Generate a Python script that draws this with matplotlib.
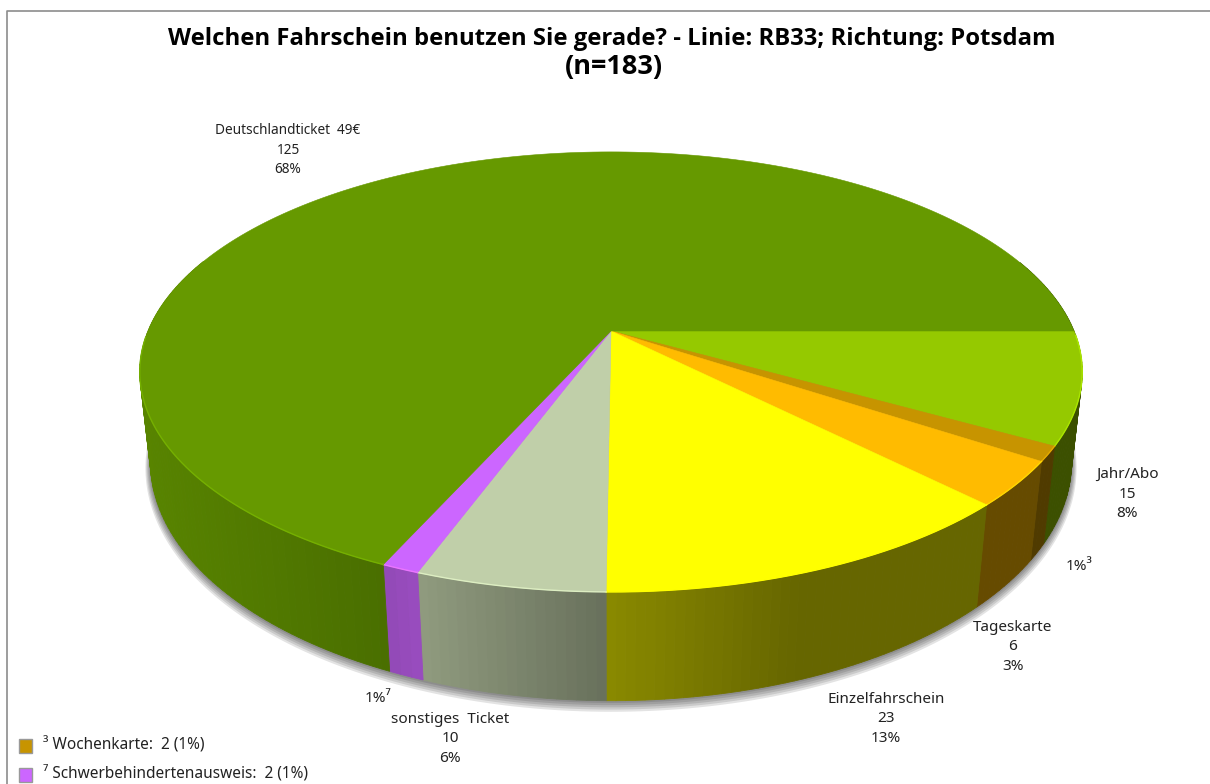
import numpy as np
import matplotlib
matplotlib.use("Agg")
import matplotlib.pyplot as plt
from matplotlib.colors import to_rgb

plt.rcParams['font.family'] = ['Noto Sans', 'DejaVu Sans']

# werte, im uhrzeigersinn ab 3 uhr
namen = ['Jahr/Abo', 'Wochenkarte', 'Tageskarte', 'Einzelfahrschein',
         'sonstiges  Ticket', 'Schwerbehindertenausweis', 'Deutschlandticket  49€']
werte = [15, 2, 6, 23, 10, 2, 125]
prozent = [8, 1, 3, 13, 6, 1, 68]
farben = ['#95C900', '#C79400', '#FFBB00', '#FFFF00', '#C0CFA9', '#CC66FF', '#669900']
fussnote = {1: '³', 5: '⁷'}

titel = 'Welchen Fahrschein benutzen Sie gerade? - Linie: RB33; Richtung: Potsdam'
titel2 = '(n=183)'

# label-position je stueck (pixel)
label_pos = [(1127, 494), (1079, 566), (1013, 647), (886, 719), (450, 739), (378, 698), (288, 150)]
label_size = [11, 11, 11, 11, 11, 11, 9.8]


# perspektive: oberseite und unterseite der scheibe
def oben(t):
    u, v = np.cos(t), np.sin(t)
    n = 1 - 0.186 * v
    return 611 + 463 * u / n, 331 + 212.4 * v / n


def unten(t, d=0.0):
    u, v = np.cos(t), np.sin(t)
    n = 1 - 0.18 * v
    return 611 + (453 + d) * u / n, 419 + d + (231 + d) * v / n


def helligkeit(x):
    return np.interp(x, [150, 390, 420, 608, 795, 1090], [0.86, 0.72, 0.75, 0.54, 0.40, 0.40])


fig = plt.figure(figsize=(12.1, 7.84), dpi=100)
ax = fig.add_axes([0, 0, 1, 1])
ax.set_xlim(0, 1210)
ax.set_ylim(784, 0)
ax.axis('off')

# rahmen
ax.plot([7, 7, 1210], [784, 11, 11], color='#8c8c8c', lw=1.2)

# schatten
t_all = np.linspace(0, 2 * np.pi, 361)
for d in [5, 4, 3, 2, 1]:
    xs, ys = unten(t_all, d)
    ax.fill(xs, ys, color='black', alpha=0.11, lw=0, zorder=1)

grenzen = np.radians(np.cumsum([0] + werte) / sum(werte) * 360)

# mantel
for i in range(len(werte)):
    n = max(int(np.degrees(grenzen[i + 1] - grenzen[i])), 1)
    ts = np.linspace(grenzen[i], grenzen[i + 1], n + 1)
    rgb = np.array(to_rgb(farben[i]))
    for t0, t1 in zip(ts[:-1], ts[1:]):
        if np.sin((t0 + t1) / 2) < -0.35:
            continue
        x0, y0 = oben(t0)
        x1, y1 = oben(t1)
        x2, y2 = unten(t1)
        x3, y3 = unten(t0)
        c = rgb * helligkeit((x0 + x1 + x2 + x3) / 4)
        ax.fill([x0, x1, x2, x3], [y0, y1, y2, y3], color=c, lw=0.6, zorder=2)

# deckel
for i in range(len(werte)):
    ts = np.linspace(grenzen[i], grenzen[i + 1], 200)
    xs, ys = oben(ts)
    ax.fill(np.r_[611, xs], np.r_[331, ys], color=farben[i], lw=0.4, zorder=3)
    rand = np.minimum(np.array(to_rgb(farben[i])) * 1.15, 1)
    sicht = np.sin(ts) > 0.02
    ax.plot(xs[sicht], ys[sicht], color=rand, lw=1.0, zorder=4)

# beschriftung
for i in range(len(werte)):
    x, y = label_pos[i]
    if i in fussnote:
        s = '%d%%%s' % (prozent[i], fussnote[i])
    else:
        s = '%s\n%d\n%d%%' % (namen[i], werte[i], prozent[i])
    ax.text(x, y, s, ha='center', va='center', fontsize=label_size[i], color='#222222',
            linespacing=1.45, zorder=5)

ax.text(612, 39, titel, ha='center', va='center', fontsize=17.2, fontweight='bold',
        family=['Open Sans', 'DejaVu Sans'], color='black', zorder=5)
ax.text(614, 67, titel2, ha='center', va='center', fontsize=19.5, fontweight='bold',
        family=['Open Sans', 'DejaVu Sans'], color='black', zorder=5)

# legende unten links
for i, y in zip(fussnote, [746, 775]):
    ax.fill([19, 32, 32, 19], [y - 7, y - 7, y + 7, y + 7], facecolor=farben[i],
            edgecolor='#999999', lw=1, zorder=5)
    ax.text(43, y - 1, '%s %s:  %d (%d%%)' % (fussnote[i], namen[i], werte[i], prozent[i]),
            ha='left', va='center', fontsize=11.1, color='#222222', zorder=5)

fig.savefig('out.png', dpi=100)
